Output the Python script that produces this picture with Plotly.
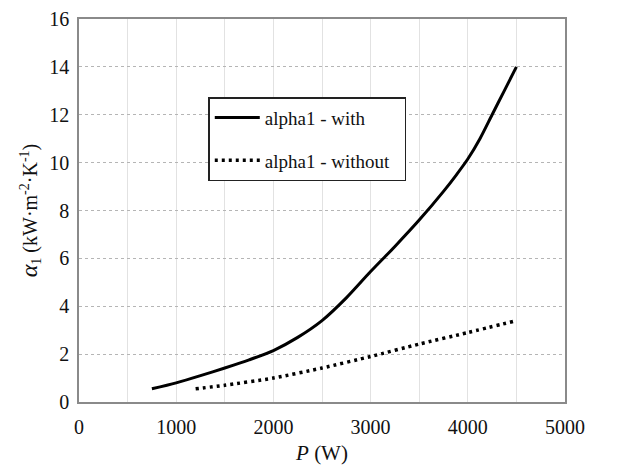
import plotly.graph_objects as go

# Data
p_with = [750, 1000, 1250, 1500, 1750, 2000, 2250, 2500, 2750, 3000, 3250, 3500, 3750, 3875, 4000, 4125, 4250, 4375, 4500]
alpha_with = [0.55, 0.8, 1.1, 1.42, 1.76, 2.15, 2.7, 3.4, 4.35, 5.45, 6.5, 7.6, 8.8, 9.45, 10.15, 11.0, 12.0, 13.0, 14.0]

p_without = [1200, 1500, 2000, 2500, 3000, 3500, 4000, 4500]
alpha_without = [0.55, 0.7, 1.0, 1.42, 1.9, 2.42, 2.9, 3.4]

x_ticks = [0, 1000, 2000, 3000, 4000, 5000]
y_ticks = [0, 2, 4, 6, 8, 10, 12, 14, 16]

FONT = "Liberation Serif, Times New Roman, serif"
NB = "\u00a0"

fig = go.Figure()
fig.add_trace(go.Scatter(
    x=p_with, y=alpha_with, mode="lines", name="alpha1 - with",
    line=dict(color="black", width=3, shape="spline", smoothing=0.8),
    legendgroup="a",
))
fig.add_trace(go.Scatter(
    x=p_without, y=alpha_without, mode="lines", name="alpha1 - without" + NB * 2,
    line=dict(color="black", width=3.5, dash="3px,4px", shape="spline", smoothing=0.6),
    legendgroup="b",
))

# page body has an 8px margin, so margins are shifted accordingly
fig.update_layout(
    width=623, height=466,
    margin=dict(l=71, r=66, t=11, b=72),
    paper_bgcolor="white", plot_bgcolor="white",
    font=dict(family=FONT, size=20, color="#111"),
    showlegend=True,
    legend=dict(
        x=0.266, y=0.796, xanchor="left", yanchor="top",
        bgcolor="white", bordercolor="#222", borderwidth=1.5,
        font=dict(family=FONT, size=19, color="#111"),
        tracegroupgap=15, itemwidth=45,
    ),
    xaxis=dict(
        range=[0, 5000], tickvals=x_ticks, ticktext=[str(v) for v in x_ticks],
        showgrid=True, gridcolor="#e2e2e2", gridwidth=1,
        minor=dict(dtick=500, showgrid=True, gridcolor="#e2e2e2", gridwidth=1),
        showline=True, linecolor="#8a8a8a", linewidth=1.5, mirror=True,
        ticks="", zeroline=False, automargin=False, ticklabelstandoff=6,
        title=dict(text="<i>P</i> (W)", font=dict(family=FONT, size=21), standoff=9),
    ),
    yaxis=dict(
        range=[0, 16], tickvals=y_ticks,
        showgrid=True, gridcolor="#b5b5b5", gridwidth=1, griddash="dot",
        showline=True, linecolor="#8a8a8a", linewidth=1.5, mirror=True,
        ticks="", zeroline=False, automargin=False, ticklabelstandoff=4,
        title=dict(text="<span style='font-size:24px'><i>α</i></span><sub>1</sub> (kW·m<sup>-2</sup>·K<sup>-1</sup>)",
                   font=dict(family=FONT, size=20), standoff=6),
    ),
)

fig.write_html("out.html")
